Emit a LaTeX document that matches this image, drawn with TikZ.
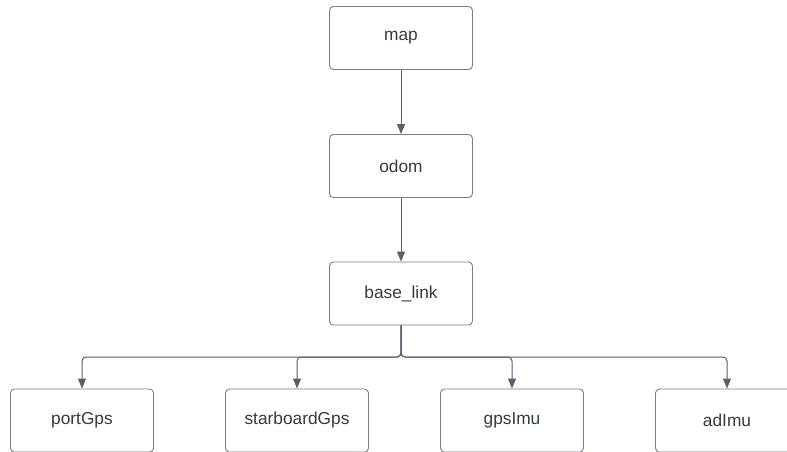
\documentclass[tikz,border=0pt]{standalone}
\usepackage{fontspec}
\setmainfont{Liberation Sans}
\usetikzlibrary{arrows.meta}
\definecolor{edgegray}{HTML}{5A5E66}
\definecolor{boxgray}{HTML}{7A7E85}
\definecolor{txtgray}{HTML}{333A44}
\begin{document}
\begin{tikzpicture}[x=1pt, y=-1pt,
  frame/.style={draw=boxgray, line width=0.9pt, rounded corners=4pt, minimum width=143pt, minimum height=63pt, inner sep=0pt, text=txtgray, font=\fontsize{17.3}{20}\selectfont},
  link/.style={draw=edgegray, line width=1pt, rounded corners=4pt, -{Triangle[length=10pt, width=8pt]}}]
  \useasboundingbox (0,0) rectangle (787,451);
  % tf tree
  \node[frame] (map) at (401,38) {map};
  \node[frame] (odom) at (401,166) {odom};
  \node[frame] (base) at (401,293.5) {base\_link};
  % sensor frames
  \node[frame] (port) at (82,420.5) {portGps};
  \node[frame] (star) at (297,420.5) {starboardGps};
  \node[frame] (gimu) at (512,420.5) {gpsImu};
  \node[frame] (adimu) at (727,420.5) {adImu};
  \coordinate (bus) at (401,357);
  \draw[link] (map) -- (odom);
  \draw[link] (odom) -- (base);
  \draw[link] (base.south) -- (bus) -| (port.north);
  \draw[link] (base.south) -- (bus) -| (star.north);
  \draw[link] (base.south) -- (bus) -| (gimu.north);
  \draw[link] (base.south) -- (bus) -| (adimu.north);
\end{tikzpicture}
\end{document}
